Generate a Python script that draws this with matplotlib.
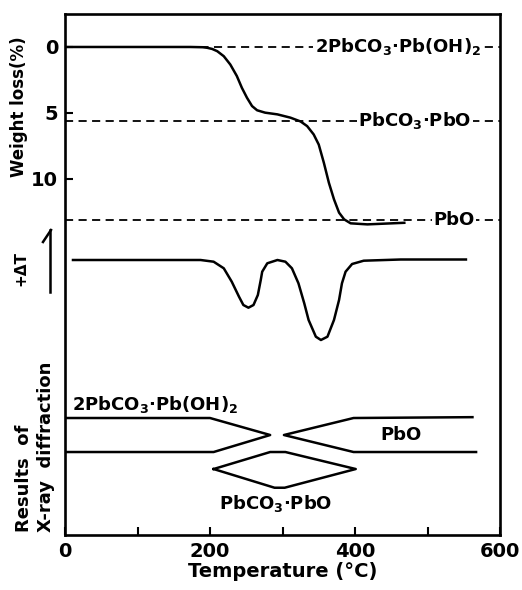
import numpy as np
import matplotlib.pyplot as plt
from matplotlib.lines import Line2D

# TG curve (weight loss %)
tg_temp = [0, 173, 190, 196, 203, 210, 219, 228, 237, 244, 251, 258, 265, 276, 293, 311,
           325, 334, 343, 350, 357, 364, 371, 378, 385, 394, 417, 468]
tg_loss = [0, 0, 0.02, 0.06, 0.15, 0.32, 0.7, 1.33, 2.2, 3.1, 3.85, 4.48, 4.8, 4.98, 5.11, 5.36,
           5.65, 6.0, 6.63, 7.4, 8.77, 10.3, 11.55, 12.56, 13.07, 13.37, 13.45, 13.33]

# levels of the phases
level_names = ['2PbCO$_3$·Pb(OH)$_2$', 'PbCO$_3$·PbO', 'PbO']
level_loss = [0, 5.6, 13.1]

# DTA curve
dta_temp = [11, 187, 205, 219, 230, 240, 246, 253, 260, 266, 270, 272, 279, 293, 304, 313, 322,
            330, 336, 346, 353, 362, 371, 378, 382, 387, 396, 412, 463, 553]
dta_val = [0, 0, -1.7, -8.3, -21.7, -36.7, -45, -47.7, -45, -35, -20, -11.7, -3.3, 0, -1.7, -8.3, -23.3,
           -43.3, -60, -76.7, -80, -76.7, -60, -40, -23.3, -11.7, -4, -0.7, 0.5, 0.5]

# X-ray diffraction bands
xrd1_temp = [0, 200, 283, 205, 3]
xrd1_y = [1, 1, 0, -1, -1]
xrd_pbo_temp = [562, 398, 302, 398, 567]
xrd_pbo_y = [1.05, 1, 0, -1, -1]
xrd_mid_temp = [205, 283, 304, 401, 303, 289, 205]
xrd_mid_y = [-2, -1, -1, -2, -3.1, -3.1, -2]

plt.rcParams['font.family'] = 'DejaVu Sans'
plt.rcParams['font.weight'] = 'bold'
plt.rcParams['mathtext.default'] = 'bf'
fs = 13
lw = 1.8

fig = plt.figure(figsize=(5.22, 5.90), dpi=100)
rect = [65/522, 55/590, 435/522, 521/590]
ax = fig.add_axes(rect)
ax.set_xlim(0, 600)
ax.set_ylim(37, -2.5)

ax.plot(tg_temp, tg_loss, color='black', lw=lw, zorder=3)
for name, val in zip(level_names, level_loss):
    ax.plot([0, 600], [val, val], color='black', lw=1.3, dashes=(4.5, 3), zorder=2)
label_x = [574, 561, 565]
for name, val, lx in zip(level_names, level_loss, label_x):
    ax.text(lx, val, name, ha='right', va='center', fontsize=fs, zorder=4,
            bbox=dict(facecolor='white', edgecolor='none', pad=1))

ax.set_xticks(range(0, 601, 100))
ax.set_xticklabels(['0', '', '200', '', '400', '', '600'], fontsize=14)
ax.set_yticks([0, 5, 10])
ax.set_yticklabels(['0', '5', '10'], fontsize=14)
ax.tick_params(axis='x', direction='in', length=6, width=1.5, pad=5)
ax.tick_params(axis='y', direction='in', length=6, width=1.5, pad=5)
for s in ax.spines.values():
    s.set_linewidth(1.9)
ax.set_xlabel('Temperature (°C)', fontsize=14, fontweight='bold', labelpad=1)

# DTA axes
ax2 = fig.add_axes(rect, facecolor='none')
ax2.set_xlim(0, 600)
ax2.set_ylim(-275, 246)
ax2.plot(dta_temp, dta_val, color='black', lw=lw)
ax2.axis('off')

# X-ray axes
ax3 = fig.add_axes(rect, facecolor='none')
ax3.set_xlim(0, 600)
ax3.set_ylim(-5.88, 24.76)
ax3.plot(xrd1_temp, xrd1_y, color='black', lw=lw)
ax3.plot(xrd_pbo_temp, xrd_pbo_y, color='black', lw=lw)
ax3.plot(xrd_mid_temp, xrd_mid_y, color='black', lw=lw)
ax3.text(10, 1.8, level_names[0], ha='left', va='center', fontsize=fs)
ax3.text(463, 0, level_names[2], ha='center', va='center', fontsize=fs)
ax3.text(290, -4.0, level_names[1], ha='center', va='center', fontsize=fs)
ax3.axis('off')

# axis labels on the left
fig.text(19/522, (590-107)/590, 'Weight loss(%)', rotation=90, ha='center', va='center', fontsize=12)
fig.text(21/522, (590-268)/590, '+ΔT', rotation=90, ha='center', va='center', fontsize=11)
fig.add_artist(Line2D([50/522, 50/522], [(590-230)/590, (590-292)/590], color='black', lw=1.8))
fig.add_artist(Line2D([43/522, 51/522], [(590-242)/590, (590-230)/590], color='black', lw=1.8))
fig.text(35/522, (590-532)/590, 'Results  of\nX-ray  diffraction', rotation=90, ha='center', va='bottom',
         multialignment='left', fontsize=13, linespacing=1.25)

fig.savefig('out.png', dpi=100)
